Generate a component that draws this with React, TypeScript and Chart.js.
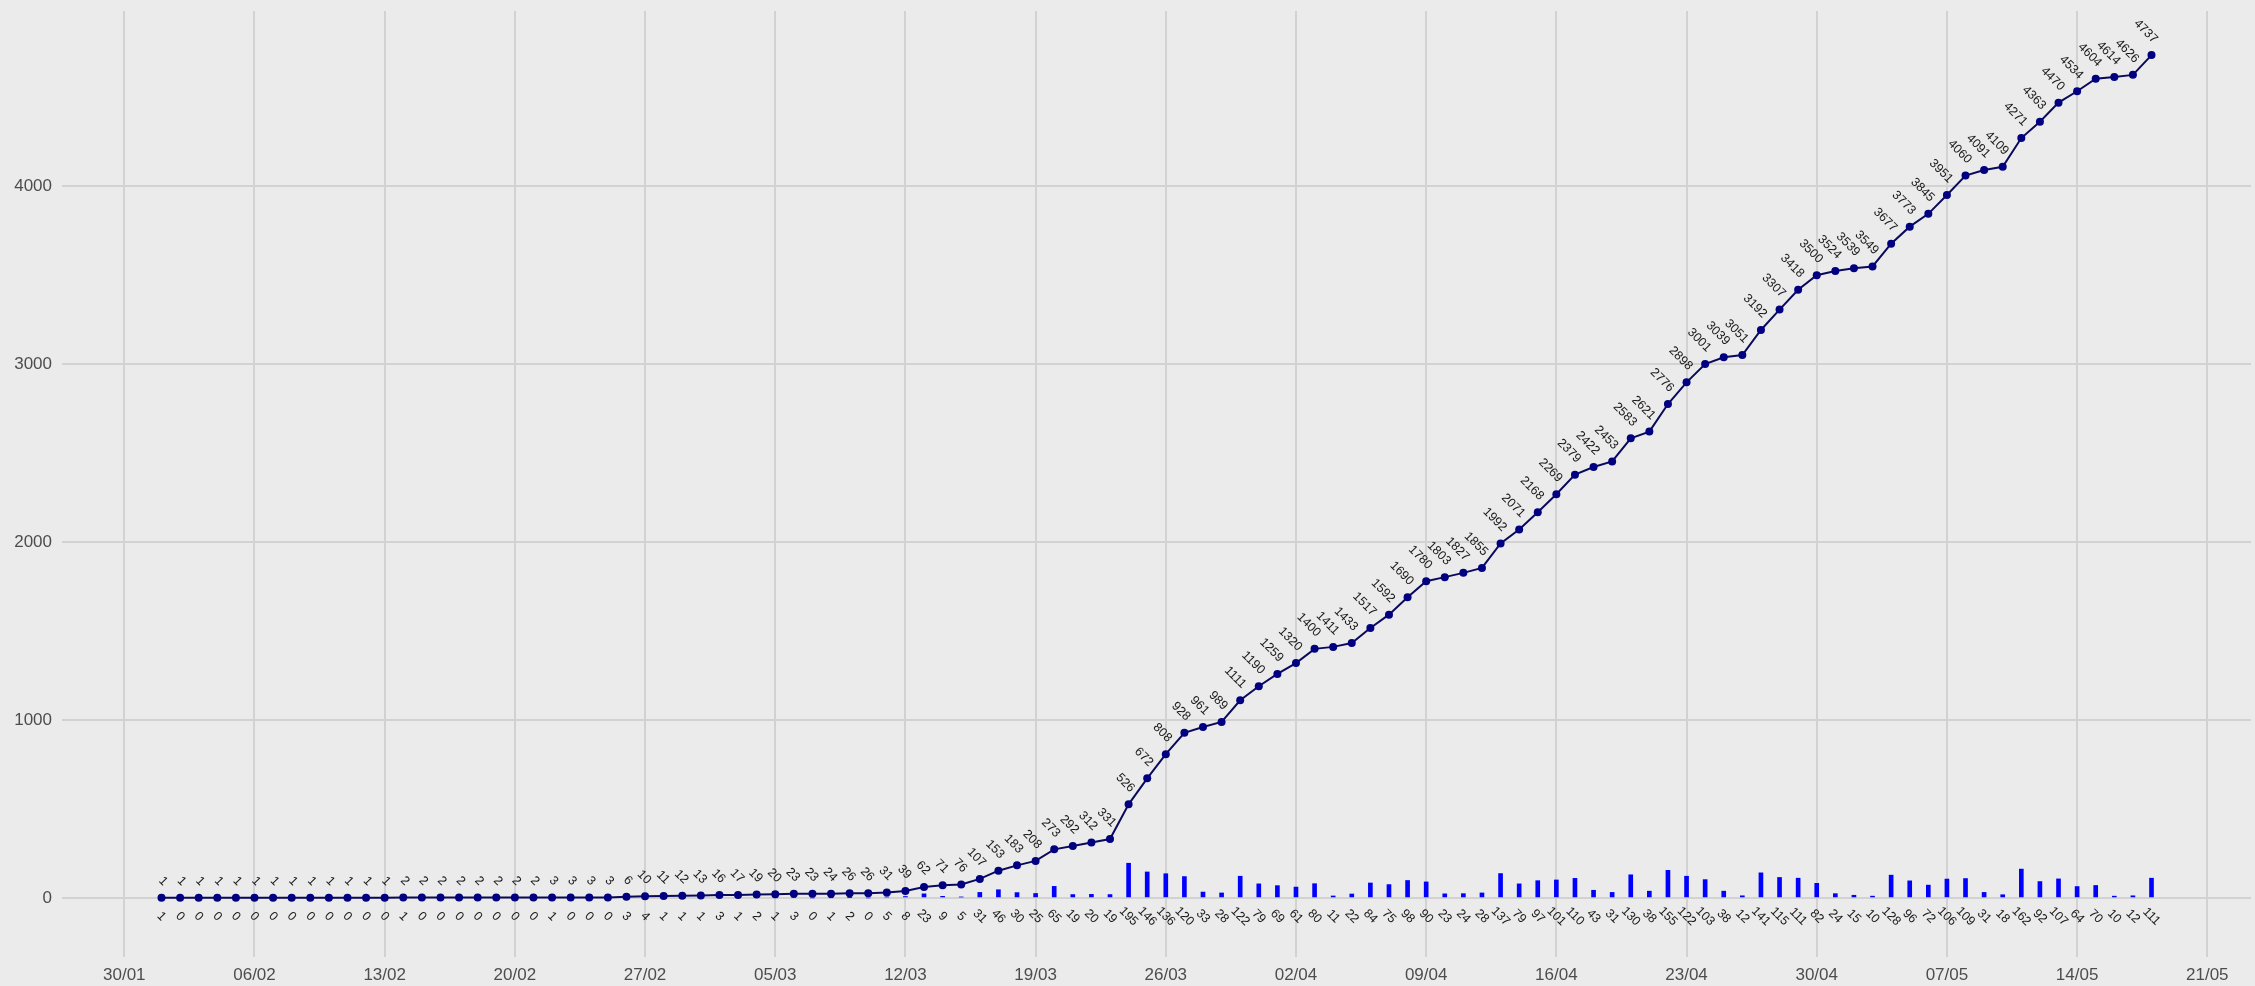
import React, { useEffect, useRef } from "react";
import { Chart, registerables } from "chart.js";

Chart.register(...registerables);

// day offset (from 30/01) of the first observation, 01/02
const firstDayOffset = 2;

const cumulative = [
  1, 1, 1, 1, 1, 1, 1, 1, 1, 1, 1, 1, 1,
  2, 2, 2, 2, 2, 2, 2, 2,
  3, 3, 3, 3,
  6, 10, 11, 12, 13, 16, 17, 19, 20, 23, 23, 24, 26, 26, 31, 39,
  62, 71, 76, 107, 153, 183, 208, 273, 292, 312, 331,
  526, 672, 808, 928, 961, 989,
  1111, 1190, 1259, 1320, 1400, 1411, 1433, 1517, 1592, 1690, 1780, 1803, 1827, 1855,
  1992, 2071, 2168, 2269, 2379, 2422, 2453, 2583, 2621, 2776, 2898,
  3001, 3039, 3051, 3192, 3307, 3418, 3500, 3524, 3539, 3549, 3677, 3773, 3845, 3951,
  4060, 4091, 4109, 4271, 4363, 4470, 4534, 4604, 4614, 4626, 4737,
];

const daily = [
  1, 0, 0, 0, 0, 0, 0, 0, 0, 0, 0, 0, 0,
  1, 0, 0, 0, 0, 0, 0, 0,
  1, 0, 0, 0,
  3, 4, 1, 1, 1, 3, 1, 2, 1, 3, 0, 1, 2, 0, 5, 8,
  23, 9, 5, 31, 46, 30, 25, 65, 19, 20, 19,
  195, 146, 136, 120, 33, 28,
  122, 79, 69, 61, 80, 11, 22, 84, 75, 98, 90, 23, 24, 28,
  137, 79, 97, 101, 110, 43, 31, 130, 38, 155, 122,
  103, 38, 12, 141, 115, 111, 82, 24, 15, 10, 128, 96, 72, 106,
  109, 31, 18, 162, 92, 107, 64, 70, 10, 12, 111,
];

const xTickLabels = [
  "30/01", "06/02", "13/02", "20/02", "27/02", "05/03", "12/03", "19/03", "26/03",
  "02/04", "09/04", "16/04", "23/04", "30/04", "07/05", "14/05", "21/05",
];
const xTickStep = 7;
const yTickValues = [0, 1000, 2000, 3000, 4000];

const BG = "#EBEBEB";
const GRID = "#D2D2D2";
const FONT = "'Liberation Sans', Arial, Helvetica, sans-serif";

const bgPlugin = {
  id: "bgFill",
  beforeDraw(chart: any) {
    const { ctx, width, height } = chart;
    ctx.save();
    ctx.fillStyle = BG;
    ctx.fillRect(0, 0, width, height);
    ctx.restore();
  },
};

const labelPlugin = {
  id: "pointLabels",
  afterDatasetsDraw(chart: any) {
    const { ctx } = chart;
    const lineMeta = chart.getDatasetMeta(0);
    const barMeta = chart.getDatasetMeta(1);
    const yZero = chart.scales.y.getPixelForValue(0);
    ctx.save();
    ctx.font = `12.5px ${FONT}`;
    ctx.fillStyle = "#1A1A1A";
    ctx.textBaseline = "middle";
    lineMeta.data.forEach((pt: any, i: number) => {
      ctx.save();
      ctx.translate(pt.x + 4, pt.y - 14);
      ctx.rotate(Math.PI / 4);
      ctx.textAlign = "right";
      ctx.fillText(String(cumulative[i]), 0, 0);
      ctx.restore();
    });
    barMeta.data.forEach((bar: any, i: number) => {
      ctx.save();
      ctx.translate(bar.x, yZero + 18.5);
      ctx.rotate(Math.PI / 4);
      ctx.textAlign = "center";
      ctx.fillText(String(daily[i]), 0, 0);
      ctx.restore();
    });
    ctx.restore();
  },
};

export default function App() {
  const canvasRef = useRef<HTMLCanvasElement | null>(null);

  useEffect(() => {
    document.body.style.margin = "0";
    document.body.style.background = BG;
    const canvas = canvasRef.current;
    if (!canvas) return;

    const linePoints = cumulative.map((v, i) => ({ x: i + firstDayOffset, y: v }));
    const barPoints = daily.map((v, i) => ({ x: i + firstDayOffset, y: v }));
    const xTickValues = xTickLabels.map((_, i) => i * xTickStep);

    const chart = new Chart(canvas, {
      type: "bar",
      data: {
        datasets: [
          {
            type: "line",
            data: linePoints,
            borderColor: "#0A0A5C",
            borderWidth: 2,
            pointBackgroundColor: "#000080",
            pointBorderColor: "#000080",
            pointRadius: 4,
            pointBorderWidth: 0,
            tension: 0,
            order: 0,
          } as any,
          {
            type: "bar",
            data: barPoints,
            backgroundColor: "#0000FF",
            borderWidth: 0,
            barThickness: 4,
            grouped: false,
            order: 1,
          } as any,
        ],
      },
      options: {
        responsive: false,
        animation: false,
        devicePixelRatio: 1,
        layout: { padding: { left: 0, right: 3, top: 11, bottom: 0 } },
        plugins: {
          legend: { display: false },
          tooltip: { enabled: false },
          title: { display: false },
        },
        scales: {
          x: {
            type: "linear",
            min: -3.35,
            max: 114.35,
            offset: false,
            border: { display: false },
            grid: { color: GRID, lineWidth: 2, drawTicks: false, offset: false },
            ticks: {
              autoSkip: false,
              maxRotation: 0,
              padding: 8,
              color: "#4D4D4D",
              font: { family: FONT, size: 17 },
              callback: (value: any) => {
                const idx = Math.round(Number(value) / xTickStep);
                return xTickLabels[idx] ?? "";
              },
            },
            afterBuildTicks: (scale: any) => {
              scale.ticks = xTickValues.map((v) => ({ value: v }));
            },
            afterFit: (scale: any) => {
              scale.height = 29;
              scale.paddingLeft = 0;
              scale.paddingRight = 0;
            },
          },
          y: {
            type: "linear",
            min: -332,
            max: 4985,
            border: { display: false },
            grid: { color: GRID, lineWidth: 2, drawTicks: false },
            ticks: {
              padding: 10,
              color: "#4D4D4D",
              font: { family: FONT, size: 17 },
              callback: (value: any) => String(value),
            },
            afterBuildTicks: (scale: any) => {
              scale.ticks = yTickValues.map((v) => ({ value: v }));
            },
            afterFit: (scale: any) => {
              scale.width = 62;
              scale.paddingTop = 0;
              scale.paddingBottom = 0;
            },
          },
        },
      },
      plugins: [bgPlugin, labelPlugin],
    });

    return () => {
      chart.destroy();
    };
  }, []);

  return (
    <div style={{ width: 2255, height: 986, background: BG }}>
      <canvas ref={canvasRef} width={2255} height={986} style={{ display: "block" }} />
    </div>
  );
}
